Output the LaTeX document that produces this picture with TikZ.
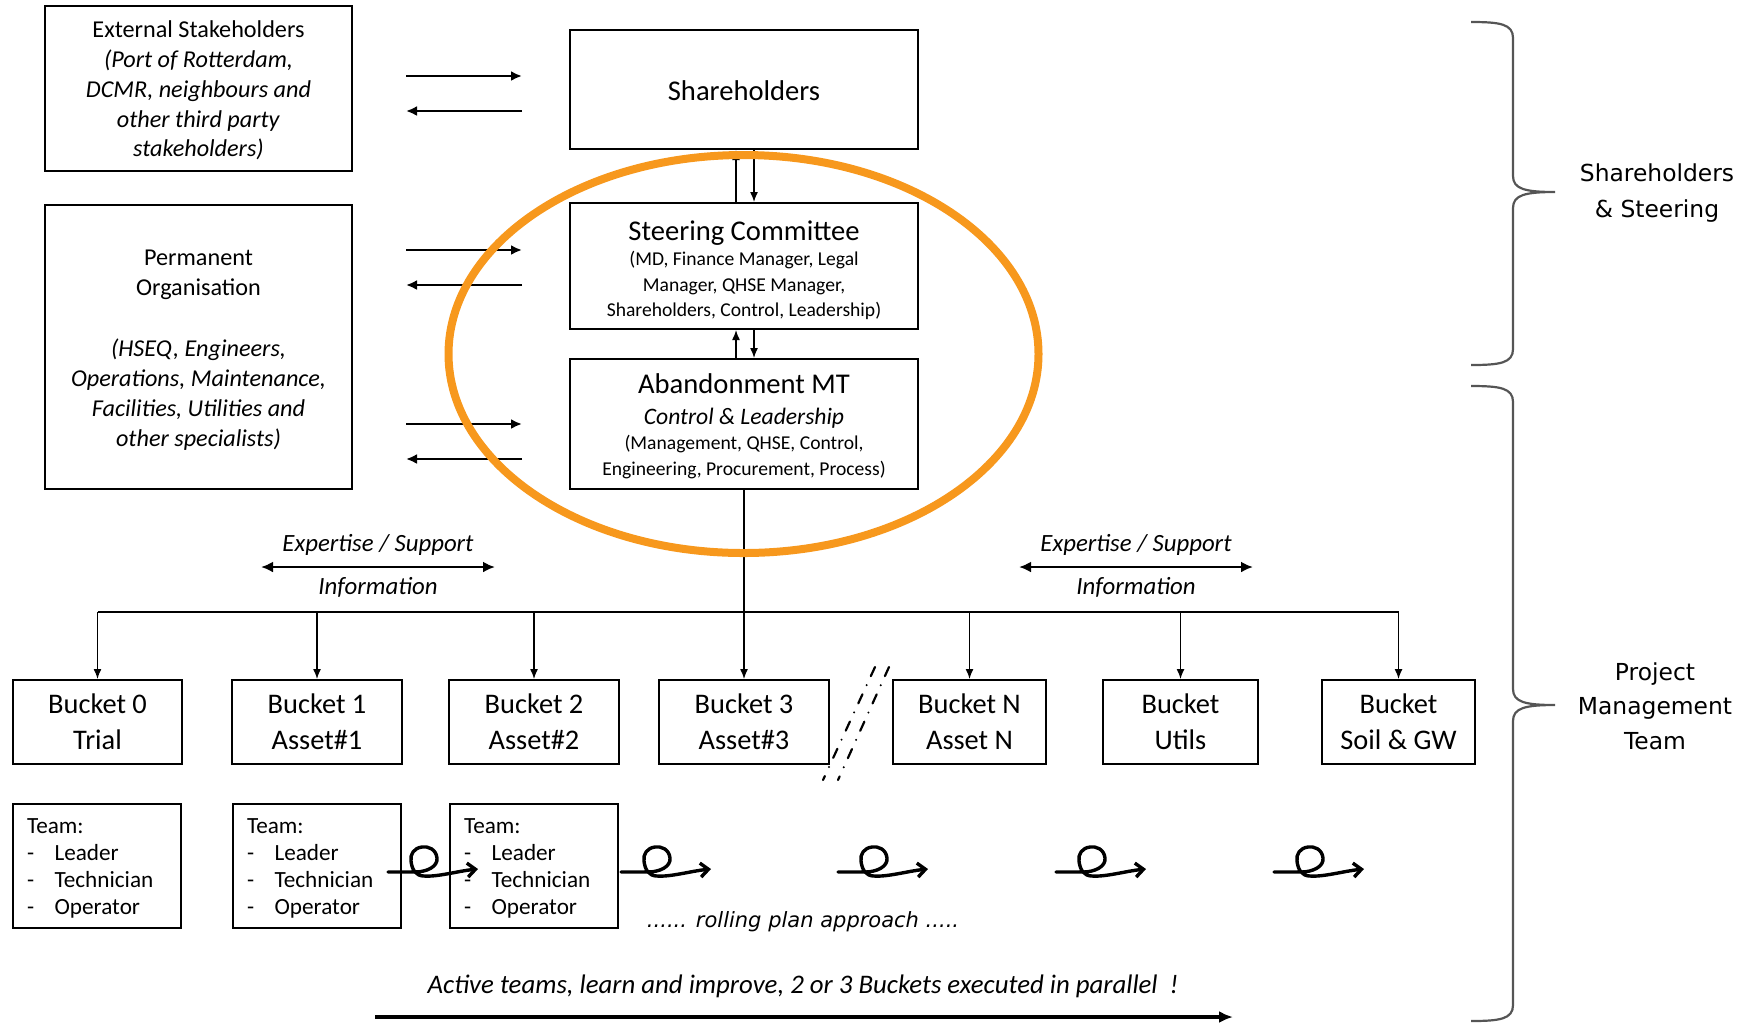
\documentclass[tikz,border=0pt]{standalone}
\usepackage{fontspec}
\setmainfont{Carlito}
\newfontfamily\sidefont{DejaVu Sans}
\usetikzlibrary{arrows.meta}
\definecolor{ringorange}{RGB}{247,152,29}
\definecolor{bracegray}{RGB}{85,85,85}
\newcommand{\boxtitle}{\fontsize{14.3}{17}\selectfont}
\newcommand{\teamitem}[1]{\makebox[13.8pt][l]{-}#1}

\begin{document}
\begin{tikzpicture}[x=0.5pt, y=-0.5pt, inner sep=0pt,
  box/.style={draw, line width=1pt, align=center},
  bucket/.style={box, minimum height=42pt, font=\fontsize{14.2}{17.8}\selectfont},
  team/.style={box, text width=70pt, inner xsep=7pt, minimum height=62pt, align=left, font=\fontsize{11.6}{13.4}\selectfont},
  arr/.style={-{Latex[length=5pt,width=4pt]}, line width=0.7pt},
  flow/.style={-{Latex[length=5.5pt,width=5pt]}, line width=1.1pt},
  info/.style={{Latex[length=6pt,width=5.5pt]}-{Latex[length=6pt,width=5.5pt]}, line width=1.4pt},
  curl/.style={-{Straight Barb[length=4pt,width=7pt]}, line width=1.7pt, line cap=round, line join=round},
  breakline/.style={line width=1.1pt, line cap=round, dash pattern=on 5pt off 5pt on 0pt off 5pt},
  brace/.style={bracegray, line width=1.1pt},
  label/.style={font=\fontsize{12.4}{14}\selectfont\itshape}]

\useasboundingbox (0,0) rectangle (1748,1024);

% left column
\node[box, minimum width=153.5pt, minimum height=82.5pt, font=\fontsize{12.1}{14.9}\selectfont] (ext) at (198.5,88.5)
  {\rule{0pt}{10.5pt}External Stakeholders\\\textit{(Port of Rotterdam,}\\\textit{DCMR, neighbours and}\\\textit{other third party}\\\textit{stakeholders)}};
\node[box, minimum width=153.5pt, minimum height=142pt, font=\fontsize{12.1}{15.1}\selectfont] (perm) at (198.5,347)
  {\rule{0pt}{11pt}Permanent\\Organisation\\[15.1pt]\textit{(HSEQ, Engineers,}\\\textit{Operations, Maintenance,}\\\textit{Facilities, Utilities and}\\\textit{other specialists)}};

% centre column
\node[box, minimum width=174pt, minimum height=59.5pt, font=\boxtitle] (share) at (744,89.5) {\rule{0pt}{11pt}Shareholders};
\node[box, minimum width=174pt, minimum height=63pt, font=\fontsize{9.8}{12.7}\selectfont] (steer) at (744,266)
  {{\boxtitle\rule{0pt}{14pt}Steering Committee}\\[0.1pt](MD, Finance Manager, Legal\\Manager, QHSE Manager,\\Shareholders, Control, Leadership)};
\node[box, minimum width=174pt, minimum height=65pt, font=\fontsize{9.8}{12.8}\selectfont] (aband) at (744,424)
  {{\boxtitle\rule{0pt}{12.2pt}Abandonment MT}\\[2.6pt]{\fontsize{11.8}{14}\selectfont\itshape Control \& Leadership}\\(Management, QHSE, Control,\\Engineering, Procurement, Process)};

\foreach \ya/\yb/\i in {76/111/1,250/285/2,424/459/3}
{
\coordinate (ina\i) at (406,\ya);
\coordinate (inb\i) at (522,\ya);
\coordinate (outa\i) at (522,\yb);
\coordinate (outb\i) at (406,\yb);
\draw[flow] (ina\i) -- (inb\i);
\draw[flow] (outa\i) -- (outb\i);
}

\draw[arr] ([xshift=-4pt]steer.north) -- ([xshift=-4pt]share.south);
\draw[arr] ([xshift=5pt]share.south) -- ([xshift=5pt]steer.north);
\draw[arr] ([xshift=-4pt]aband.north) -- ([xshift=-4pt]steer.south);
\draw[arr] ([xshift=5pt]steer.south) -- ([xshift=5pt]aband.north);

% buckets
\foreach \i/\x/\w/\txt in {0/97.5/84.5pt/{Bucket 0\\Trial},1/317/85pt/{Bucket 1\\Asset\#1},2/534/85pt/{Bucket 2\\Asset\#2},3/744/85pt/{Bucket 3\\Asset\#3},4/969.5/76.5pt/{Bucket N\\Asset N},5/1180.5/77.5pt/{Bucket\\Utils},6/1398.5/76.5pt/{Bucket\\Soil \& GW}}
{
\node[bucket, minimum width=\w] (b\i) at (\x,722) {\txt};
}

\foreach \i/\x in {0/97,1/317,2/534}
{
\node[team] (t\i) at (\x,866) {\rule{0pt}{10pt}Team:\\\teamitem{Leader}\\\teamitem{Technician}\\\teamitem{Operator}};
}

\coordinate (bus) at (744,612);
\draw[line width=0.9pt] (b0.north |- bus) -- (b6.north |- bus);
\foreach \i in {0,1,2,4,5,6}
{
\draw[arr] (b\i.north |- bus) -- (b\i.north);
}
\draw[arr] (aband.south) -- (b3.north);

% expertise / information
\coordinate (expa) at (261,567);
\coordinate (expb) at (495,567);
\coordinate (expc) at (1019,567);
\coordinate (expd) at (1253,567);
\draw[info] (expa) -- (expb) node[midway, above=5pt, label] (expL) {Expertise / Support} node[midway, below=4.5pt, label] (infoL) {Information};
\draw[info] (expc) -- (expd) node[midway, above=5pt, label] (expR) {Expertise / Support} node[midway, below=4.5pt, label] (infoR) {Information};

% break marks
\draw[breakline] (875,667) -- (823,780);
\draw[breakline] (889,667) -- (838,780);

% rolling plan
\foreach \x in {388,621,838,1056,1274}
{
\begin{scope}[shift={(\x,872)}]
\draw[curl] (0,0) -- (27,0) .. controls (38,0) and (50,-5) .. (49,-14) .. controls (48,-23) and (40,-26) .. (34,-25) .. controls (26,-24) and (22,-18) .. (23,-11) .. controls (24,-2) and (28,4) .. (36,4) .. controls (50,5) and (70,-1) .. (90,-3);
\end{scope}
}
\node[font=\sidefont\fontsize{10.5}{12}\selectfont\itshape] (roll) at (803,922) {...... rolling plan approach .....};

\node[font=\fontsize{13.4}{15}\selectfont\itshape] (active) at (803,986) {Active teams, learn and improve, 2 or 3 Buckets executed in parallel~~!};
\coordinate (acta) at (375,1017);
\coordinate (actb) at (1233,1017);
\draw[-{Latex[length=7pt,width=6pt]}, line width=1.8pt] (acta) -- (actb);

% braces
\foreach \ya/\ym/\yb in {22/192/365,386/705/1021}
{
\draw[brace] (1471,\ya) .. controls (1500,\ya) and (1513,{\ya+2}) .. (1513,{\ya+16}) -- (1513,{\ym-16}) .. controls (1513,{\ym-3}) and (1525,\ym) .. (1555,\ym) .. controls (1525,\ym) and (1513,{\ym+3}) .. (1513,{\ym+16}) -- (1513,{\yb-16}) .. controls (1513,{\yb-2}) and (1500,\yb) .. (1471,\yb);
}
\node[font=\sidefont\fontsize{11.7}{17.8}\selectfont, align=center] (grpA) at (1657,193) {Shareholders\\\& Steering};
\node[font=\sidefont\fontsize{11.7}{17.3}\selectfont, align=center] (grpB) at (1655,706) {Project\\Management\\Team};

% highlight
\draw[ringorange, line width=4pt] (743.5,354) ellipse [x radius=147.5pt, y radius=99.5pt];
\end{tikzpicture}
\end{document}
